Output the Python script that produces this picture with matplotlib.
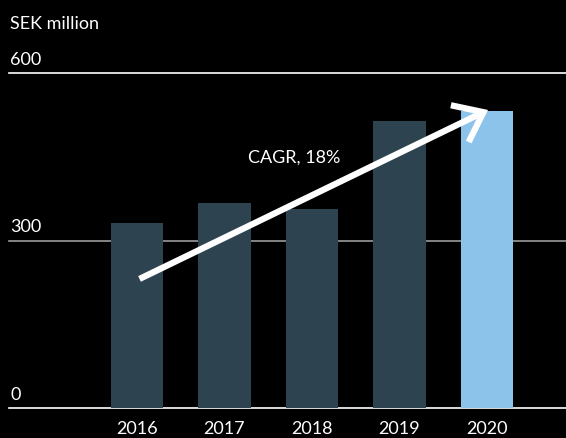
import matplotlib.pyplot as plt
from matplotlib.patches import FancyArrowPatch

plt.rcParams['font.family'] = ['Lato', 'DejaVu Sans']

years = ['2016', '2017', '2018', '2019', '2020']
sales = [331, 367, 356, 514, 532]
yticks = [0, 300, 600]
cagr_label = 'CAGR, 18%'

dark = '#2e4350'
light = '#8cc3ea'

fig = plt.figure(figsize=(5.66, 4.39), dpi=100, facecolor='black')
ax = fig.add_axes([0, 30 / 439, 1, 335 / 439])
ax.set_facecolor('black')

x = list(range(len(years)))
colors = [dark] * (len(years) - 1) + [light]
ax.bar(x, sales, width=0.595, color=colors, zorder=2)

ax.set_xlim(-1.566, 4.903)
ax.set_ylim(0, 600)
ax.axis('off')

fs = 13

# horizontal guides with value labels sitting on top
for v in yticks:
    col = '#9a9a9a' if v == 300 else 'white'
    ax.axhline(v, xmin=9 / 566, xmax=1, color=col, lw=1.2, zorder=1, clip_on=False)
    ax.text(-1.45, v + 11, str(v), color='white', fontsize=fs,
            ha='left', va='bottom')

ax.text(-1.45, 690, 'SEK million', color='white', fontsize=fs,
        ha='left', va='center', clip_on=False)

for xi, yr in zip(x, years):
    ax.text(xi, -35, yr, color='white', fontsize=fs, ha='center',
            va='center', clip_on=False)

# growth arrow from first to last year
arrow = FancyArrowPatch((0, 229), (4.04, 536), arrowstyle='->,head_length=1.35,head_width=1.05',
                        mutation_scale=14, color='white', lw=4.5, zorder=3,
                        capstyle='butt', joinstyle='miter', clip_on=False)
ax.add_patch(arrow)
ax.text(1.8, 450, cagr_label, color='white', fontsize=fs, ha='center', va='center')

fig.savefig('out.png', dpi=100, facecolor='black')
